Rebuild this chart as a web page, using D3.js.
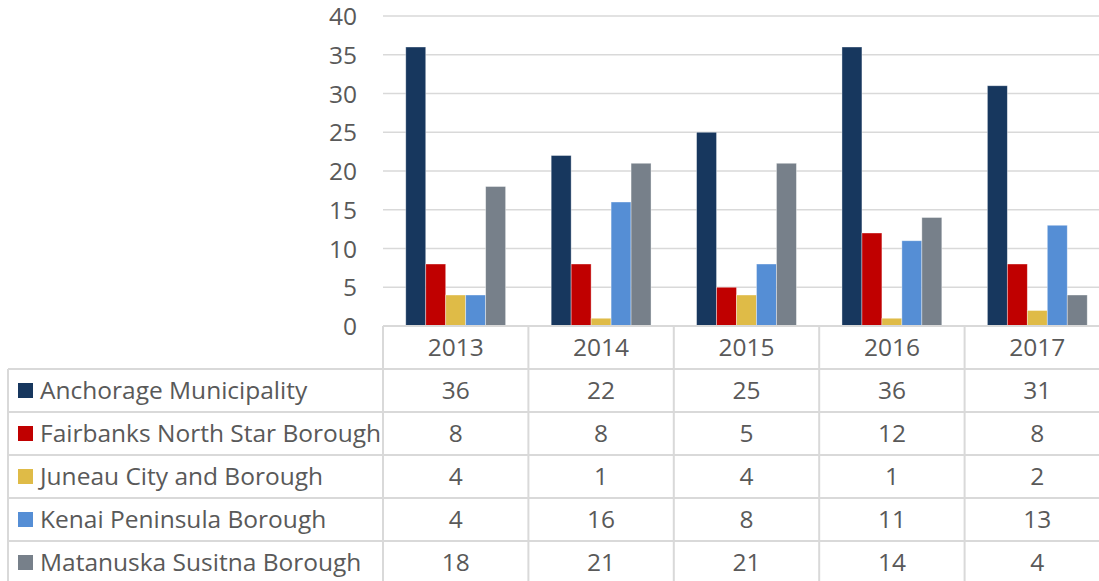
<!DOCTYPE html>
<html><head><meta charset="utf-8">
<script src="https://cdn.jsdelivr.net/npm/d3@7"></script>
<style>body{margin:0;background:#fff;} svg{display:block;}</style>
</head><body>
<svg id="c" width="1099" height="581"></svg>
<script>
const years = ["2013","2014","2015","2016","2017"];
const seriesNames = ["Anchorage Municipality","Fairbanks North Star Borough","Juneau City and Borough","Kenai Peninsula Borough","Matanuska Susitna Borough"];
const anchorage = [36,22,25,36,31];
const fairbanks = [8,8,5,12,8];
const juneau = [4,1,4,1,2];
const kenai = [4,16,8,11,13];
const matSu = [18,21,21,14,4];
const colors = ["#17375e","#c00000","#dfbb47","#558ed5","#77808a"];
const yTicks = [0,5,10,15,20,25,30,35,40];

(function(){
const values = [anchorage,fairbanks,juneau,kenai,matSu];
const svg = d3.select("#c");
const font = "'Open Sans', sans-serif";
const fs = "24.5px";
const textColor = "#595959";
const gridColor = "#d9d9d9";

const pLeft = 383, pRight = 1110, pTop = 16, pBottom = 326;
const x = d3.scaleBand().domain(years).range([pLeft,pRight]);
const y = d3.scaleLinear().domain([0,40]).range([pBottom,pTop]);
const inner = d3.scaleBand().domain(seriesNames).range([0, x.bandwidth()]).paddingInner(0).paddingOuter(1.14);

svg.append("g").selectAll("line").data(yTicks.filter(d=>d>0)).join("line")
  .attr("x1",pLeft).attr("x2",pRight).attr("y1",d=>y(d)).attr("y2",d=>y(d))
  .attr("stroke",gridColor).attr("stroke-width",1.5);

const yAxis = d3.axisLeft(y).tickValues(yTicks).tickSize(0).tickPadding(0);
const ya = svg.append("g").attr("transform",`translate(357,0)`).call(yAxis);
ya.select(".domain").remove();
ya.selectAll("text").attr("fill",textColor).style("font-family",font).style("font-size",fs).attr("dy","0.35em");

years.forEach((yr,i)=>{
  const g = svg.append("g").attr("transform",`translate(${x(yr)},0)`);
  g.selectAll("rect").data(seriesNames).join("rect")
    .attr("x",s=>inner(s)).attr("width",inner.bandwidth())
    .attr("y",(s,j)=>y(values[j][i])).attr("height",(s,j)=>pBottom-y(values[j][i]))
    .attr("fill",(s,j)=>colors[j]).attr("stroke","#ffffff").attr("stroke-opacity",0.5).attr("stroke-width",0.75);
});

const rowEdges = [326,369,412,455,498,541,584];
const tableLeft = 8;
const tg = svg.append("g");
rowEdges.forEach((ry,k)=>{
  tg.append("line").attr("x1",k===0?pLeft:tableLeft).attr("x2",pRight).attr("y1",ry).attr("y2",ry).attr("stroke",gridColor).attr("stroke-width",2);
});
tg.append("line").attr("x1",tableLeft).attr("x2",tableLeft).attr("y1",369).attr("y2",584).attr("stroke",gridColor).attr("stroke-width",2);
years.forEach(yr=>{
  tg.append("line").attr("x1",x(yr)).attr("x2",x(yr)).attr("y1",326).attr("y2",584).attr("stroke",gridColor).attr("stroke-width",2);
});
tg.append("line").attr("x1",pRight).attr("x2",pRight).attr("y1",326).attr("y2",584).attr("stroke",gridColor).attr("stroke-width",2);

tg.selectAll("text.yr").data(years).join("text").attr("class","yr")
  .attr("x",d=>x(d)+x.bandwidth()/2).attr("y",(rowEdges[0]+rowEdges[1])/2)
  .attr("dy","0.35em").attr("text-anchor","middle").attr("fill",textColor)
  .style("font-family",font).style("font-size",fs).text(d=>d);

seriesNames.forEach((s,j)=>{
  const cy = (rowEdges[j+1]+rowEdges[j+2])/2;
  tg.append("rect").attr("x",18).attr("y",cy-7.5).attr("width",15).attr("height",15).attr("fill",colors[j]);
  tg.append("text").attr("x",40).attr("y",cy).attr("dy","0.35em").attr("fill",textColor)
    .style("font-family",font).style("font-size",fs).text(s);
  years.forEach((yr,i)=>{
    tg.append("text").attr("x",x(yr)+x.bandwidth()/2).attr("y",cy).attr("dy","0.35em")
      .attr("text-anchor","middle").attr("fill",textColor)
      .style("font-family",font).style("font-size",fs).text(values[j][i]);
  });
});
})();
</script>
</body></html>
